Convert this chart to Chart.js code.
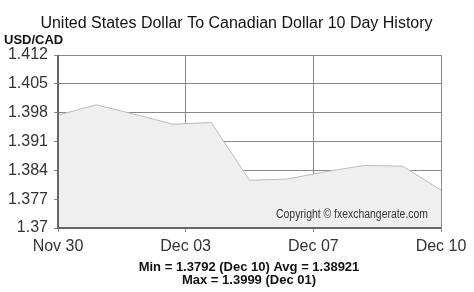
<!DOCTYPE html>
<html><head><meta charset="utf-8">
<script src="https://cdn.jsdelivr.net/npm/chart.js@4/dist/chart.umd.min.js"></script>
<style>html,body{margin:0;padding:0;background:#fff;}canvas{display:block;}</style>
</head><body>
<canvas id="c" width="474" height="292"></canvas>
<script>
const dates = ["Nov 30","Dec 01","Dec 02","Dec 03","Dec 04","Dec 05","Dec 06","Dec 07","Dec 08","Dec 09","Dec 10"];
const rates = [1.3974, 1.3999, 1.3976, 1.3952, 1.3956, 1.3816, 1.3819, 1.3837, 1.3852, 1.3850, 1.3792];
const xTickLabels = ["Nov 30","Dec 03","Dec 07","Dec 10"];
const yTickValues = [1.37, 1.377, 1.384, 1.391, 1.398, 1.405, 1.412];
const yTickLabels = ["1.37","1.377","1.384","1.391","1.398","1.405","1.412"];
const titleText = "United States Dollar To Canadian Dollar 10 Day History";
const unitText = "USD/CAD";
const statsLine1 = "Min = 1.3792 (Dec 10) Avg = 1.38921";
const statsLine2 = "Max = 1.3999 (Dec 01)";
const copyrightText = "Copyright \u00A9 fxexchangerate.com";

const FONT = "'Liberation Sans', Arial, sans-serif";
const n = rates.length - 1;
const xTickPositions = xTickLabels.map((_, i) => i * n / (xTickLabels.length - 1));

const textPlugin = {
  id: 'texts',
  afterDatasetsDraw(chart) {
    const ctx = chart.ctx, a = chart.chartArea;
    ctx.save();
    ctx.strokeStyle = '#666';
    ctx.lineWidth = 2;
    ctx.beginPath();
    ctx.moveTo(a.left, a.top); ctx.lineTo(a.left, a.bottom + 1);
    ctx.moveTo(a.left - 1, a.bottom); ctx.lineTo(a.right, a.bottom);
    ctx.stroke();
    ctx.fillStyle = '#333';
    ctx.font = '12px ' + FONT;
    ctx.textAlign = 'right';
    ctx.textBaseline = 'alphabetic';
    ctx.fillText(copyrightText, 428, 218, 152);
    ctx.restore();
  },
  afterDraw(chart) {
    const ctx = chart.ctx;
    ctx.save();
    ctx.fillStyle = '#111';
    ctx.textBaseline = 'alphabetic';
    ctx.font = '16px ' + FONT;
    ctx.textAlign = 'center';
    ctx.fillText(titleText, 236.5, 28, 397);
    ctx.font = 'bold 13px ' + FONT;
    ctx.textAlign = 'left';
    ctx.fillText(unitText, 4, 44);
    ctx.textAlign = 'center';
    ctx.fillText(statsLine1, 249, 271);
    ctx.fillText(statsLine2, 249, 284);
    ctx.restore();
  }
};

new Chart(document.getElementById('c'), {
  type: 'line',
  data: {
    labels: dates,
    datasets: [{
      data: rates.map((v, i) => ({x: i, y: v})),
      borderColor: '#bbbbbb',
      borderWidth: 1,
      backgroundColor: '#efefef',
      fill: 'start',
      pointRadius: 0,
      tension: 0
    }]
  },
  options: {
    responsive: false,
    animation: false,
    devicePixelRatio: 1,
    layout: { padding: { left: 0, right: 33, top: 55, bottom: 0 } },
    plugins: { legend: { display: false }, tooltip: { enabled: false }, title: { display: false } },
    scales: {
      x: {
        type: 'linear', min: 0, max: n,
        afterBuildTicks(axis) { axis.ticks = xTickPositions.map(v => ({ value: v })); },
        afterFit(axis) { axis.height = 64; },
        ticks: {
          autoSkip: false, maxRotation: 0, padding: 5,
          color: '#333', font: { family: FONT, size: 16 },
          callback(value, index) { return xTickLabels[index]; }
        },
        grid: { color: '#888', lineWidth: 1, tickLength: 4, drawTicks: true },
        border: { display: false }
      },
      y: {
        min: yTickValues[0], max: yTickValues[yTickValues.length - 1],
        afterBuildTicks(axis) { axis.ticks = yTickValues.map(v => ({ value: v })); },
        afterFit(axis) { axis.width = 58; },
        ticks: {
          autoSkip: false, padding: 6,
          color: '#333', font: { family: FONT, size: 16 },
          callback(value, index) { return yTickLabels[index]; }
        },
        grid: { color: '#888', lineWidth: 1, tickLength: 4, drawTicks: true },
        border: { display: false }
      }
    }
  },
  plugins: [textPlugin]
});
</script>
</body></html>
